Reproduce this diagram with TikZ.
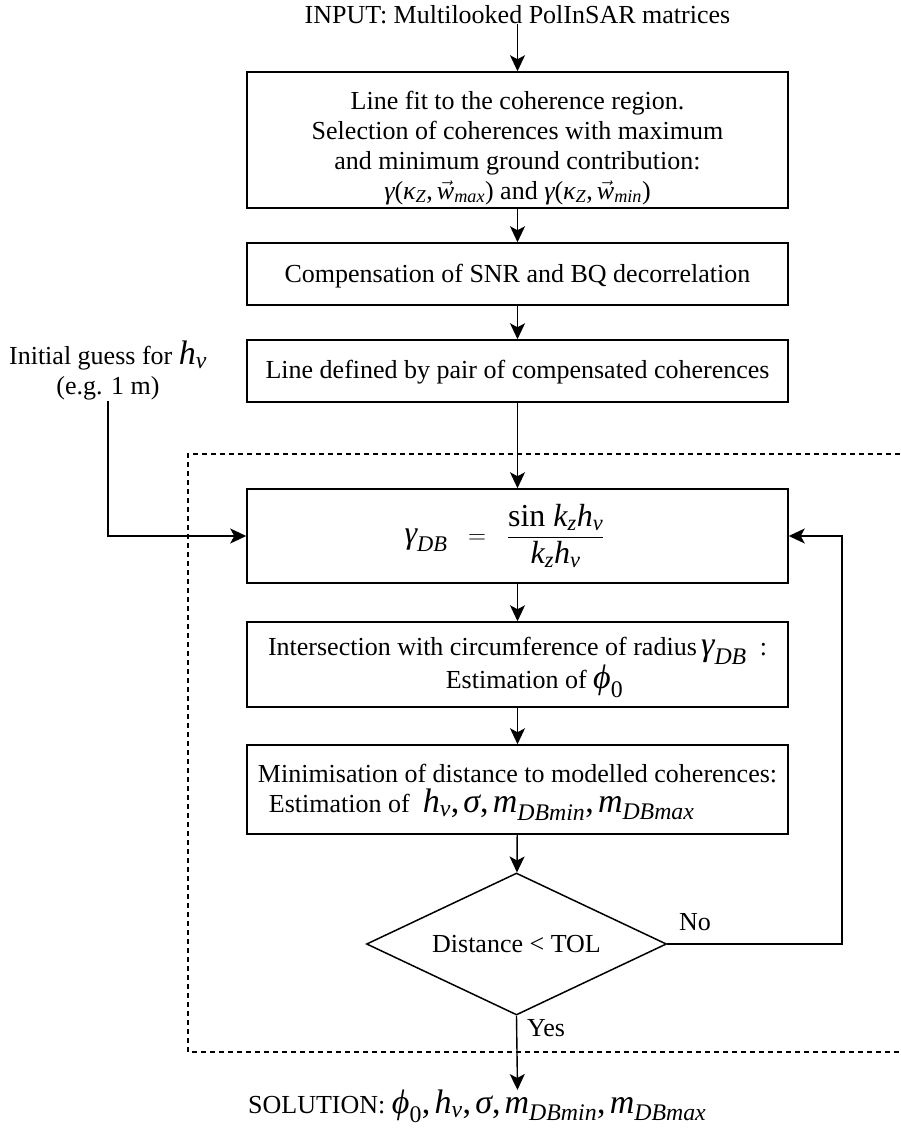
\documentclass[tikz,border=0pt]{standalone}
\usepackage{amsmath}
\usepackage{fontspec}
\setmainfont{Liberation Serif}
\usetikzlibrary{arrows.meta,shapes.geometric}
\newcommand{\mt}[1]{\text{\itshape #1}}
\newcommand{\cm}{\text{,}\,}
\newcommand{\bigmath}[1]{{\fontsize{34}{30}\selectfont$#1$}}
\tikzset{
  box/.style={draw, line width=1.5pt, minimum width=541pt, align=center, inner sep=0pt},
  arr/.style={line width=1.4pt, -{Stealth[length=16pt,width=15pt,inset=4pt]}},
  dotline/.style={line width=1.4pt, dash pattern=on 5pt off 4pt},
  lbl/.style={inner sep=0pt, align=center},
  dia/.style={draw, diamond, shape aspect=2.1, line width=1.5pt, minimum width=300pt, minimum height=142pt, inner sep=0pt}
}
\begin{document}
\begin{tikzpicture}[x=1pt,y=-1pt,font=\fontsize{26}{30}\selectfont]
\useasboundingbox (0,0) rectangle (900,1132);

\node[lbl] (in) at (517.5,15) {INPUT: Multilooked PolInSAR matrices};

\node[box, minimum height=136pt] (b1) at (517.5,140) {\rule{0pt}{34pt}Line fit to the coherence region.\\ Selection of coherences with maximum\\ and minimum ground contribution:\\ $\mt{γ}\text{(}\mt{κ}_{\mt{Z}}\cm\vec{\mt{w}}_{\mt{max}}\text{)}$ and $\mt{γ}\text{(}\mt{κ}_{\mt{Z}}\cm\vec{\mt{w}}_{\mt{min}}\text{)}$};

\node[box, minimum height=62pt] (b2) at (517.5,274) {\rule{0pt}{22pt}Compensation of SNR and BQ decorrelation};

\node[box, minimum height=62pt] (b3) at (517.5,371) {\rule{0pt}{21pt}Line defined by pair of compensated coherences};

\node[box, minimum height=94pt] (b4) at (517.5,536) {{\fontsize{32}{36}\selectfont$\mt{γ}_{\mt{DB}}\;\;=\;\;\dfrac{\text{sin }\mt{k}_{\mt{z}}\mt{h}_{\mt{v}}}{\mt{k}_{\mt{z}}\mt{h}_{\mt{v}}}$}\hspace*{26pt}};

\node[box, minimum height=85pt] (b5) at (517.5,664.5) {\rule{0pt}{24pt}Intersection with circumference of radius\,\bigmath{\mt{γ}_{\mt{DB}}}\ \ :\\ \hspace*{34pt}Estimation of \bigmath{\mt{ϕ}_{\text{0}}}};

\node[box, minimum height=89pt, align=left] (b6) at (517.5,789.5) {\rule{0pt}{24pt}Minimisation of distance to modelled coherences:\\ \hspace*{11pt}Estimation of \ \bigmath{\mt{h}_{\mt{v}}\cm\mt{σ}\cm\mt{m}_{\mt{DBmin}}\cm\mt{m}_{\mt{DBmax}}}};

\node[dia] (d) at (516.5,944) {Distance < TOL};

\node[lbl, anchor=north west] (sol) at (248,1090) {SOLUTION: \bigmath{\mt{ϕ}_{\text{0}}\cm\mt{h}_{\mt{v}}\cm\mt{σ}\cm\mt{m}_{\mt{DBmin}}\cm\mt{m}_{\mt{DBmax}}}};

\node[lbl] (ig) at (108,371) {Initial guess for \bigmath{\mt{h}_{\mt{v}}}\\ (e.g. 1 m)};

\node[lbl] (no) at (695,922) {No};
\node[lbl] (yes) at (546,1028) {Yes};

\coordinate (fb) at (842,944);
\coordinate (solin) at (517.5,1090);

\draw[dotline] (900,454) -- (188,454) -- (188,1052) -- (900,1052);

\draw[arr] (in) -- (b1);
\draw[arr] (b1) -- (b2);
\draw[arr] (b2) -- (b3);
\draw[arr] (b3) -- (b4);
\draw[arr] (b4) -- (b5);
\draw[arr] (b5) -- (b6);
\draw[arr] (b6) -- (d);
\draw[arr] (d.south) -- (solin);
\draw[arr] (ig.south) |- (b4.west);
\draw[arr] (d.east) -- (fb) |- (b4.east);
\end{tikzpicture}
\end{document}
